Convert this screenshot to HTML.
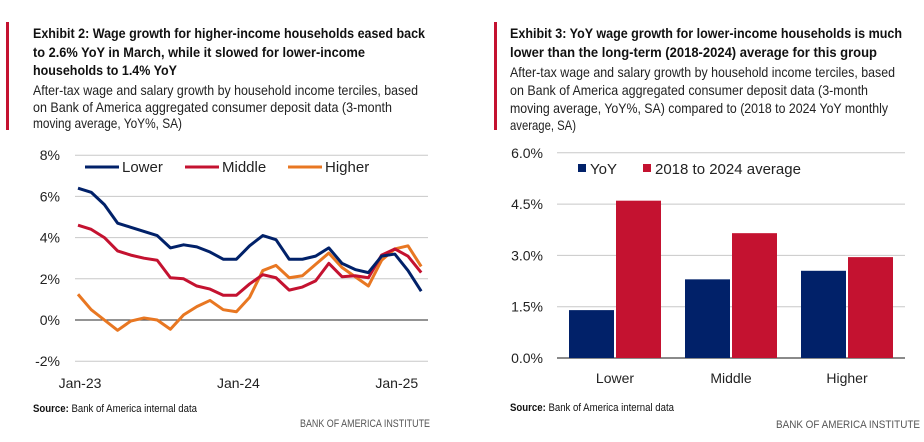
<!DOCTYPE html>
<html><head><meta charset="utf-8"><style>
body{margin:0;background:#fff}
svg{display:block;font-family:"Liberation Sans",sans-serif}
</style></head><body>
<svg width="924" height="442" viewBox="0 0 924 442">
<g>
<rect x="6" y="22" width="3" height="108" fill="#c41230"/>
<g font-weight="bold" font-size="14" fill="#111">
<text x="33" y="38" textLength="392" lengthAdjust="spacingAndGlyphs">Exhibit 2: Wage growth for higher-income households eased back</text>
<text x="33" y="57" textLength="332" lengthAdjust="spacingAndGlyphs">to 2.6% YoY in March, while it slowed for lower-income</text>
<text x="33" y="75" textLength="144" lengthAdjust="spacingAndGlyphs">households to 1.4% YoY</text>
</g>
<g font-size="14" fill="#222">
<text x="33" y="95" textLength="385" lengthAdjust="spacingAndGlyphs">After-tax wage and salary growth by household income terciles, based</text>
<text x="33" y="112" textLength="359" lengthAdjust="spacingAndGlyphs">on Bank of America aggregated consumer deposit data (3-month</text>
<text x="33" y="128" textLength="149" lengthAdjust="spacingAndGlyphs">moving average, YoY%, SA)</text>
</g>
</g>
<g>
<rect x="494" y="22" width="3" height="108" fill="#c41230"/>
<g font-weight="bold" font-size="14" fill="#111">
<text x="510" y="38" textLength="392" lengthAdjust="spacingAndGlyphs">Exhibit 3: YoY wage growth for lower-income households is much</text>
<text x="510" y="57" textLength="367" lengthAdjust="spacingAndGlyphs">lower than the long-term (2018-2024) average for this group</text>
</g>
<g font-size="14" fill="#222">
<text x="510" y="77" textLength="385" lengthAdjust="spacingAndGlyphs">After-tax wage and salary growth by household income terciles, based</text>
<text x="510" y="95" textLength="358" lengthAdjust="spacingAndGlyphs">on Bank of America aggregated consumer deposit data (3-month</text>
<text x="510" y="113" textLength="378" lengthAdjust="spacingAndGlyphs">moving average, YoY%, SA) compared to (2018 to 2024 YoY monthly</text>
<text x="510" y="130" textLength="66" lengthAdjust="spacingAndGlyphs">average, SA)</text>
</g>
</g>
<g id="line-chart"></g>
<g id="bar-chart"></g>
<g font-size="11" fill="#111">
<text x="33" y="412" textLength="164" lengthAdjust="spacingAndGlyphs"><tspan font-weight="bold">Source:</tspan> Bank of America internal data</text>
<text x="300" y="427" textLength="130" lengthAdjust="spacingAndGlyphs" fill="#555">BANK OF AMERICA INSTITUTE</text>
<text x="510" y="411" textLength="164" lengthAdjust="spacingAndGlyphs"><tspan font-weight="bold">Source:</tspan> Bank of America internal data</text>
<text x="776" y="428" textLength="144" lengthAdjust="spacingAndGlyphs" fill="#555">BANK OF AMERICA INSTITUTE</text>
</g>
</svg>
<script>
const NS="http://www.w3.org/2000/svg";
// line chart data
const lowerVals=[6.4,6.2,5.6,4.7,4.5,4.3,4.1,3.5,3.65,3.55,3.3,2.95,2.95,3.6,4.1,3.9,2.95,2.95,3.1,3.5,2.75,2.45,2.3,3.1,3.2,2.4,1.4];
const middleVals=[4.6,4.4,4.0,3.35,3.15,3.0,2.9,2.05,2.0,1.65,1.5,1.2,1.2,1.75,2.2,2.05,1.45,1.6,1.9,2.75,2.1,2.15,2.05,3.15,3.45,3.1,2.3];
const higherVals=[1.25,0.5,0.0,-0.5,-0.05,0.1,0.0,-0.45,0.25,0.65,0.95,0.5,0.4,1.1,2.4,2.65,2.05,2.15,2.7,3.25,2.55,2.1,1.65,2.9,3.45,3.6,2.6];
const seriesNames=["Lower","Middle","Higher"];
const lineYTicks=[-2,0,2,4,6,8];
const xTickLabels=["Jan-23","Jan-24","Jan-25"];
const xTickIdx=[0,12,24];
// bar chart data
const barCategories=["Lower","Middle","Higher"];
const yoyVals=[1.4,2.3,2.55];
const avgVals=[4.6,3.65,2.95];
const barYTicks=[0,1.5,3.0,4.5,6.0];
const barSeriesNames=["YoY","2018 to 2024 average"];

function el(tag,attrs,parent,txt){const e=document.createElementNS(NS,tag);for(const k in attrs)e.setAttribute(k,attrs[k]);if(txt!==undefined)e.textContent=txt;parent.appendChild(e);return e;}

// ---- line chart
const L=document.getElementById('line-chart');
const lx=i=>78+i*13.2;
const ly=v=>320-v*20.6;
lineYTicks.forEach(t=>{
  const g=el('line',{x1:75,x2:428,y1:ly(t),y2:ly(t),stroke:t===0?'#555':'#c8c8c8','stroke-width':t===0?1.2:1},L);
  
  
  const tx=el('text',{x:60,y:ly(t)+5,'text-anchor':'end','font-size':14,fill:'#222'},L,t+'%');
  
  
});
xTickIdx.forEach((idx,k)=>{
  const tx=el('text',{x:lx(idx)+2,y:388,'text-anchor':'middle','font-size':14,fill:'#222'},L,xTickLabels[k]);
  
  
});
const colors=['#012169','#c41230','#e87722'];
[higherVals,middleVals,lowerVals].forEach((vals,j)=>{
  const c=[colors[2],colors[1],colors[0]][j];
  const p=el('polyline',{points:vals.map((v,i)=>lx(i)+','+ly(v)).join(' '),fill:'none',stroke:c,'stroke-width':3,'stroke-linejoin':'round'},L);
  
  
});
const legX=[85,185,288];
seriesNames.forEach((n,k)=>{
  const ln=el('line',{x1:legX[k],x2:legX[k]+34,y1:167,y2:167,stroke:colors[k],'stroke-width':3},L);
  
  
  const tx=el('text',{x:legX[k]+37,y:172,'font-size':15,fill:'#222'},L,n);
  
  
});

// ---- bar chart
const B=document.getElementById('bar-chart');
const by=v=>358-v*34.2;
barYTicks.forEach(t=>{
  const g=el('line',{x1:557,x2:905,y1:by(t),y2:by(t),stroke:t===0?'#444':'#c8c8c8','stroke-width':t===0?1.2:1},B);
  
  
  const tx=el('text',{x:543,y:by(t)+5,'text-anchor':'end','font-size':14,fill:'#222'},B,t.toFixed(1)+'%');
  
  
});
const gx=i=>615+i*116;
barCategories.forEach((c,i)=>{
  const r1=el('rect',{x:gx(i)-46,y:by(yoyVals[i]),width:45,height:by(0)-by(yoyVals[i]),fill:'#012169'},B);
  
  
  const r2=el('rect',{x:gx(i)+1,y:by(avgVals[i]),width:45,height:by(0)-by(avgVals[i]),fill:'#c41230'},B);
  
  
  const tx=el('text',{x:gx(i),y:383,'text-anchor':'middle','font-size':14,fill:'#222'},B,c);
  
  
});
const bLegX=[578,643],bCol=['#012169','#c41230'];
barSeriesNames.forEach((n,k)=>{
  const s=el('rect',{x:bLegX[k],y:164,width:8,height:8,fill:bCol[k]},B);
  
  
  const tx=el('text',{x:bLegX[k]+12,y:174,'font-size':15,fill:'#222'},B,n);
  
  
});
</script>
</body></html>
